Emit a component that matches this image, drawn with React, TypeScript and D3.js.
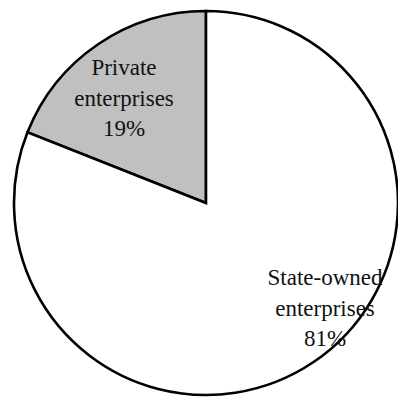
import React from "react";
import * as d3 from "d3";

const categories = ["Private enterprises", "State-owned enterprises"];
const values = [19, 81];
const labelLines = [["Private", "enterprises", "19%"], ["State-owned", "enterprises", "81%"]];
const fills = ["#c0c0c0", "#ffffff"];

export default function App() {
  const W = 398, H = 398;
  const cx = 206, cy = 203, r = 192;
  const data = categories.map((c, i) => ({ c, v: values[i], i }));
  const total = d3.sum(values);
  const angle = d3.scaleLinear().domain([0, total]).range([0, 2 * Math.PI]);
  const privA = angle(values[0]);
  const arcs = [
    { startAngle: -privA, endAngle: 0, i: 0 },
    { startAngle: 0, endAngle: 2 * Math.PI - privA, i: 1 },
  ];
  const arcGen = d3.arc<any>().innerRadius(0).outerRadius(r);
  const labelPos = [
    [124 - cx, 75 - cy],
    [325 - cx, 285 - cy],
  ];
  const fam = ["Times New Roman", "Liberation Serif"];
  return (
    <svg width={W} height={H} style={{ position: "absolute", left: 0, top: 0 }}>
      <g transform={`translate(${cx},${cy})`}>
        {arcs.map((a) => (
          <path key={a.i} d={arcGen(a) as string} fill={fills[a.i]} stroke="#000" strokeWidth={2.6} strokeLinejoin="miter" />
        ))}
        {data.map((d) => (
          <text key={d.c} textAnchor="middle" fontFamily={fam[d.i]} fontSize={23} fill="#111">
            {labelLines[d.i].map((line, j) => (
              <tspan key={j} x={labelPos[d.i][0]} y={labelPos[d.i][1] + j * 30.5}>{line}</tspan>
            ))}
          </text>
        ))}
      </g>
    </svg>
  );
}
